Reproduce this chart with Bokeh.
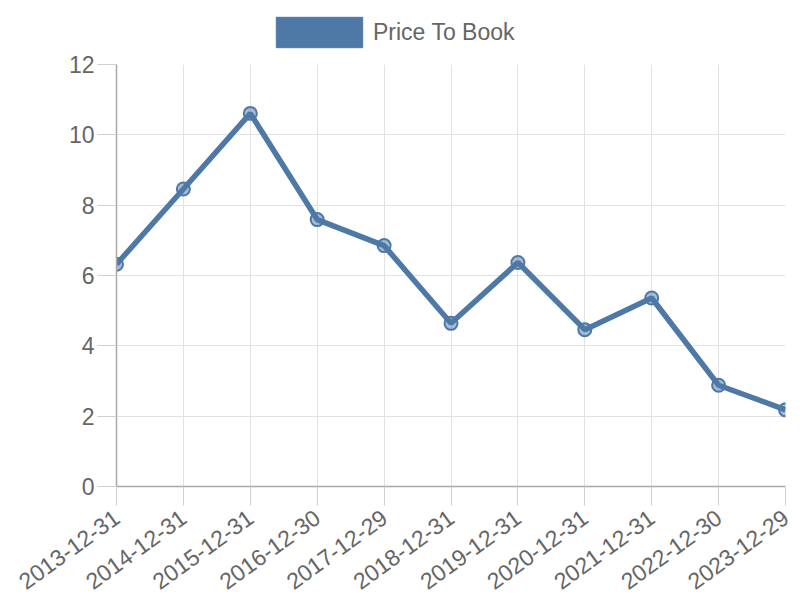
import math
from bokeh.plotting import figure
from bokeh.layouts import column
from bokeh.models import Range1d, FixedTicker, Legend, LegendItem, ColumnDataSource
from bokeh.embed import file_html
from bokeh.resources import INLINE

dates = ["2013-12-31", "2014-12-31", "2015-12-31", "2016-12-30", "2017-12-29",
         "2018-12-31", "2019-12-31", "2020-12-31", "2021-12-31", "2022-12-30",
         "2023-12-29"]
price_to_book = [6.32, 8.46, 10.61, 7.59, 6.85, 4.64, 6.37, 4.46, 5.36, 2.88, 2.18]
y_ticks = [0, 2, 4, 6, 8, 10, 12]
series_name = "Price To Book"

BLUE = "#4E79A7"
TEXT = "#666666"
FONT = "Liberation Sans"
GRID = "#e2e2e2"
TICK = "#d0d0d0"
AXIS = "#a8a8a8"

W = 800
LEG_H = 52

# ---- legend strip ----
lg = figure(width=W, height=LEG_H, output_backend="svg", toolbar_location=None,
            x_range=Range1d(0, 1), y_range=Range1d(0, 1),
            min_border=0, min_border_left=0, min_border_right=0,
            min_border_top=0, min_border_bottom=0)
lg.axis.visible = False
lg.grid.visible = False
lg.outline_line_color = None
# legend swatch renderer: its one point sits outside the visible range
box = lg.rect(x=[-10], y=[-10], width=1, height=1, fill_color=BLUE, line_color=BLUE)
legend = Legend(items=[LegendItem(label=series_name, renderers=[box])],
                location=(149, LEG_H - 13 - 38), orientation="horizontal",
                glyph_width=108, glyph_height=38, label_standoff=0,
                padding=0, margin=0, border_line_color=None,
                background_fill_alpha=0, label_text_font_size="23px",
                label_text_color=TEXT, label_text_font=FONT)
lg.add_layout(legend, "center")

# ---- main chart ----
idx = list(range(len(dates)))
src = ColumnDataSource(dict(x=idx, y=price_to_book))

p = figure(width=W, height=600 - LEG_H, output_backend="svg", toolbar_location=None,
           x_range=Range1d(0, len(dates) - 1), y_range=Range1d(y_ticks[0], y_ticks[-1]),
           min_border_left=116, min_border_right=15, min_border_top=64 - LEG_H,
           min_border_bottom=109)
p.outline_line_color = None

p.line("x", "y", source=src, line_color=BLUE, line_width=5.5)
p.scatter("x", "y", source=src, size=13, fill_color=BLUE, fill_alpha=0.5,
          line_color=BLUE, line_width=2)

p.xaxis.ticker = FixedTicker(ticks=idx)
p.xaxis.major_label_overrides = {i: d for i, d in enumerate(dates)}
p.xaxis.major_label_orientation = math.radians(36)
p.xaxis.major_label_standoff = 9
p.xaxis.major_label_text_line_height = 0.6
p.yaxis.ticker = FixedTicker(ticks=y_ticks)
p.yaxis.major_label_standoff = 3

for ax in (p.xaxis[0], p.yaxis[0]):
    ax.axis_line_color = AXIS
    ax.axis_line_width = 1.5
    ax.major_tick_line_color = TICK
    ax.major_tick_out = 19
    ax.major_tick_in = 0
    ax.minor_tick_line_color = None
    ax.major_label_text_font = FONT
    ax.major_label_text_font_size = "23px"
    ax.major_label_text_color = TEXT

p.xgrid.ticker = FixedTicker(ticks=idx)
p.ygrid.ticker = FixedTicker(ticks=y_ticks)
for g in (p.xgrid[0], p.ygrid[0]):
    g.grid_line_color = GRID
    g.grid_line_width = 1

layout = column(lg, p, spacing=0)
open("out.html", "w").write(file_html(layout, INLINE))
